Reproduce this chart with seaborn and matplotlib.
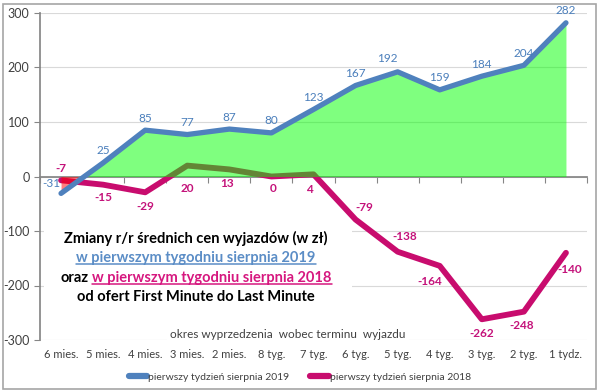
import numpy as np
import pandas as pd
import matplotlib
matplotlib.use("Agg")
import matplotlib.pyplot as plt
import seaborn as sns
from matplotlib.patches import Rectangle
from matplotlib.lines import Line2D
from matplotlib.transforms import blended_transform_factory

categories = ["6 mies.", "5 mies.", "4 mies.", "3 mies.", "2 mies.", "8 tyg.", "7 tyg.",
              "6 tyg.", "5 tyg.", "4 tyg.", "3 tyg.", "2 tyg.", "1 tydz."]
values_2019 = [-31, 25, 85, 77, 87, 80, 123, 167, 192, 159, 184, 204, 282]
values_2018 = [-7, -15, -29, 20, 13, 0, 4, -79, -138, -164, -262, -248, -140]
label_2019 = "pierwszy tydzień sierpnia 2019"
label_2018 = "pierwszy tydzień sierpnia 2018"
y_ticks = [-300, -200, -100, 0, 100, 200, 300]
axis_title = "okres wyprzedzenia  wobec terminu  wyjazdu"
title_lines = ["Zmiany r/r średnich cen wyjazdów (w zł)",
               "w pierwszym tygodniu sierpnia 2019",
               "oraz",
               "w pierwszym tygodniu sierpnia 2018",
               "od ofert First Minute do Last Minute"]

# data label offsets (pixels)
off_2019 = [(-10, 10)] + [(0, 12)] * 7 + [(-10, 13)] + [(0, 12)] * 4
off_2018 = [(0, 12), (0, -13), (0, -14), (0, -23), (-2, -14), (2, -12), (-4, -15),
            (9, 12), (7, 15), (-10, -16), (0, -14), (-2, -14), (4, -17)]

BLUE = "#4F81BD"
BLUE_TXT = "#4A7EBB"
MAG = "#C80C6E"
MAG_TXT = "#C4127A"
GRAY_TXT = "#404040"

sns.set_theme(style="white")
plt.rcParams["font.family"] = ["Lato", "DejaVu Sans"]

W, H = 600, 392
fig = plt.figure(figsize=(6, 3.92), dpi=100)
ax = fig.add_axes([40 / W, 1 - 340 / H, (587 - 40) / W, (340 - 13) / H])

df = pd.DataFrame({"x": np.arange(len(categories)), "y2019": values_2019, "y2018": values_2018})
x = df["x"].to_numpy(float)
y19 = df["y2019"].to_numpy(float)

sns.lineplot(data=df, x="x", y="y2018", ax=ax, color=MAG, lw=4.2, zorder=3,
             solid_joinstyle="round", solid_capstyle="round")
ax.fill_between(x, y19, 0, where=y19 >= 0, interpolate=True, color=(0, 1, 0), alpha=0.5, lw=0, zorder=4)
ax.fill_between(x, y19, 0, where=y19 <= 0, interpolate=True, color=(1, 0, 0), alpha=0.5, lw=0, zorder=4)
sns.lineplot(data=df, x="x", y="y2019", ax=ax, color=BLUE, lw=3.8, zorder=5,
             solid_joinstyle="round", solid_capstyle="round")

for i, v in enumerate(values_2019):
    ax.annotate(str(v), (i, v), xytext=off_2019[i], textcoords="offset pixels",
                ha="center", va="center", fontsize=8.5, color=BLUE_TXT, zorder=6)
for i, v in enumerate(values_2018):
    ax.annotate(str(v), (i, v), xytext=off_2018[i], textcoords="offset pixels",
                ha="center", va="center", fontsize=8.5, color=MAG_TXT, fontweight="bold", zorder=6)

ax.set_xlim(-0.5, len(categories) - 0.5)
ax.set_ylim(-300, 300)
ax.set_xlabel("")
ax.set_ylabel("")
ax.set_yticks(y_ticks)
ax.set_yticklabels([str(t) for t in y_ticks], fontsize=9, color=GRAY_TXT)
ax.set_xticks(np.arange(-0.5, len(categories)))
ax.set_xticklabels([])
ax.tick_params(axis="both", direction="out", length=4, width=0.8, color="#868686", left=True, bottom=True)
ax.yaxis.grid(True, color="#D9D9D9", lw=0.8)
ax.set_axisbelow(True)
for s in ["top", "right"]:
    ax.spines[s].set_visible(False)
ax.spines["left"].set_color("#868686")
ax.spines["bottom"].set_color("#868686")
ax.spines["bottom"].set_position(("data", 0))
ax.spines["bottom"].set_zorder(2)

trans = blended_transform_factory(ax.transData, fig.transFigure)
for i, c in enumerate(categories):
    ax.text(i, 1 - 355 / H, c, transform=trans, ha="center", va="center", fontsize=8, color=GRAY_TXT)

fig.text(288 / W, 1 - 334 / H, axis_title, ha="center", va="center", fontsize=8.5, color=GRAY_TXT,
         bbox=dict(facecolor="white", edgecolor="none", pad=2))

# white box behind the title
fig.add_artist(Rectangle((44 / W, 1 - 308 / H), (352 - 44) / W, (308 - 224) / H,
                         transform=fig.transFigure, facecolor="white", edgecolor="none", zorder=1))

cx = 196
ys = [238, 258, 278, 297]
tkw = dict(fontsize=10.5, fontweight="bold", va="center")
t1 = fig.text(cx / W, 1 - ys[0] / H, title_lines[0], ha="center", color="black", **tkw)
t2 = fig.text(cx / W, 1 - ys[1] / H, title_lines[1], ha="center", color="#5B8DC6", **tkw)
t3a = fig.text(0, 1 - ys[2] / H, title_lines[2], ha="left", color="black", **tkw)
t3b = fig.text(0, 1 - ys[2] / H, title_lines[3], ha="left", color="#D6177F", **tkw)
t4 = fig.text(cx / W, 1 - ys[3] / H, title_lines[4], ha="center", color="black", **tkw)

fig.canvas.draw()
r = fig.canvas.get_renderer()
wa = t3a.get_window_extent(r).width
wb = t3b.get_window_extent(r).width
gap = 4
x0 = cx - (wa + gap + wb) / 2
t3a.set_x(x0 / W)
t3b.set_x((x0 + wa + gap) / W)
fig.canvas.draw()
for t, col in [(t2, "#5B8DC6"), (t3b, "#D6177F")]:
    bb = t.get_window_extent(r)
    yy = bb.y0 + 1
    fig.add_artist(Line2D([bb.x0 / W, bb.x1 / W], [yy / H, yy / H], transform=fig.transFigure,
                          color=col, lw=1.1, zorder=4))

handles = [Line2D([0], [0], color=BLUE, lw=4.5, solid_capstyle="round"),
           Line2D([0], [0], color=MAG, lw=4.5, solid_capstyle="round")]
fig.legend(handles, [label_2019, label_2018], loc="center", bbox_to_anchor=(300 / W, 1 - 377 / H),
           ncol=2, frameon=False, handlelength=1.8, handletextpad=0.1, columnspacing=2.0,
           fontsize=7.5, labelcolor=GRAY_TXT)

fig.add_artist(Rectangle((3 / W, 3 / H), 593 / W, 385 / H, transform=fig.transFigure,
                         fill=False, edgecolor="#A6A6A6", lw=1.2, zorder=10))

fig.savefig("out.png", dpi=100)
